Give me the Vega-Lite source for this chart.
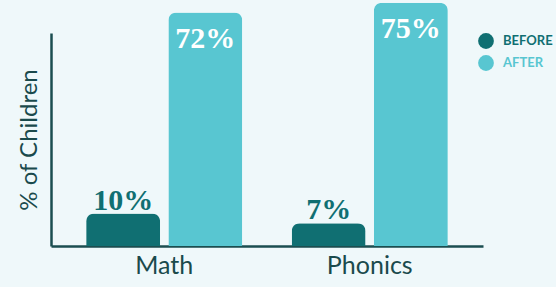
{
  "$schema": "https://vega.github.io/schema/vega-lite/v6.json",
  "width": 432,
  "height": 213,
  "autosize": {"type": "none"},
  "padding": {"left": 51, "top": 33, "right": 73, "bottom": 41},
  "background": "#eff8fa",
  "config": {"view": {"stroke": null}},
  "data": {
    "values": [
      {"subject": "Math", "period": "BEFORE", "value": 10, "label": "10%"},
      {"subject": "Math", "period": "AFTER", "value": 72, "label": "72%"},
      {"subject": "Phonics", "period": "BEFORE", "value": 7, "label": "7%"},
      {"subject": "Phonics", "period": "AFTER", "value": 75, "label": "75%"}
    ]
  },
  "encoding": {
    "x": {
      "field": "subject",
      "type": "nominal",
      "sort": ["Math", "Phonics"],
      "scale": {"paddingInner": 0.24, "paddingOuter": 0.171},
      "axis": {
        "title": null,
        "labelAngle": 0,
        "ticks": false,
        "domainColor": "#1b4e50",
        "domainWidth": 2.5,
        "labelFont": "Lato",
        "labelFontSize": 25,
        "labelColor": "#1a4a4c",
        "labelPadding": 7
      }
    },
    "xOffset": {
      "field": "period",
      "type": "nominal",
      "sort": ["BEFORE", "AFTER"],
      "scale": {"paddingInner": 0.1, "paddingOuter": 0}
    },
    "y": {
      "field": "value",
      "type": "quantitative",
      "scale": {"domain": [0, 65.7], "nice": false},
      "axis": {
        "title": "% of Children",
        "titleFont": "Lato",
        "titleFontSize": 24,
        "titleFontWeight": "normal",
        "titleColor": "#1a4a4c",
        "titlePadding": 10,
        "labels": false,
        "ticks": false,
        "grid": false,
        "domainColor": "#1b4e50",
        "domainWidth": 2.5
      }
    }
  },
  "layer": [
    {
      "mark": {"type": "bar", "cornerRadiusTopLeft": 8, "cornerRadiusTopRight": 8},
      "encoding": {
        "color": {
          "field": "period",
          "type": "nominal",
          "sort": ["BEFORE", "AFTER"],
          "scale": {"domain": ["BEFORE", "AFTER"], "range": ["#106f72", "#58c6d1"]},
          "legend": {
            "title": null,
            "orient": "none",
            "legendX": 427,
            "legendY": 0,
            "padding": 0,
            "symbolType": "circle",
            "symbolSize": 250,
            "symbolStrokeWidth": 0,
            "labelFont": "Lato",
            "labelFontSize": 13,
            "labelFontWeight": "bold",
            "labelOffset": 9,
            "rowPadding": 6,
            "labelLimit": 80,
            "labelColor": "#106f72",
            "encode": {
              "labels": {
                "update": {
                  "fill": {"signal": "datum.value === 'BEFORE' ? '#106f72' : '#58c6d1'"}
                }
              }
            }
          }
        }
      }
    },
    {
      "transform": [{"filter": "datum.period === 'BEFORE'"}],
      "mark": {
        "type": "text",
        "font": "Liberation Serif",
        "fontWeight": "bold",
        "fontSize": 30,
        "baseline": "alphabetic",
        "dy": -4,
        "color": "#106f72"
      },
      "encoding": {"text": {"field": "label"}}
    },
    {
      "transform": [{"filter": "datum.period === 'AFTER'"}],
      "mark": {
        "type": "text",
        "font": "Liberation Serif",
        "fontWeight": "bold",
        "fontSize": 30,
        "baseline": "alphabetic",
        "dy": 35,
        "color": "#ffffff"
      },
      "encoding": {"text": {"field": "label"}}
    }
  ]
}
